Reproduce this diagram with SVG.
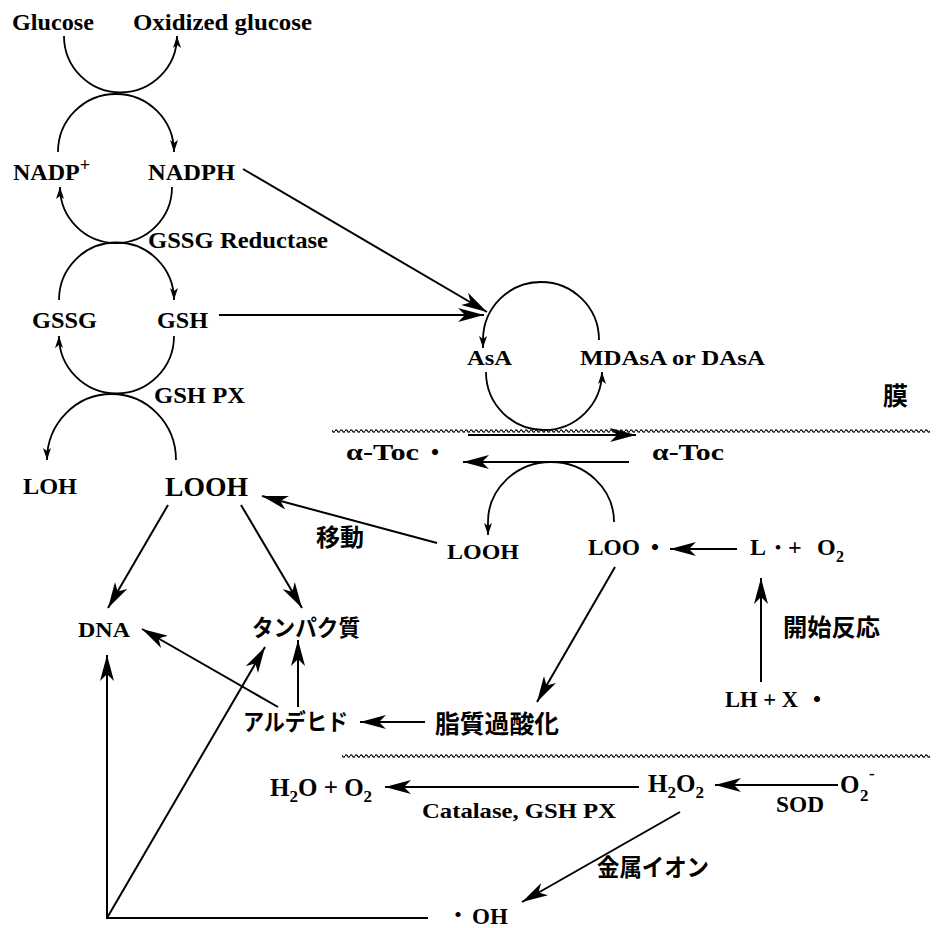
<svg xmlns="http://www.w3.org/2000/svg" width="936" height="928" viewBox="0 0 936 928">
<style>
.t{font-family:"Liberation Serif","Times New Roman",serif;font-weight:bold;fill:#000}
.j{font-family:"Noto Sans CJK JP","Noto Sans CJK SC",sans-serif;font-weight:bold;fill:#000}
.ln{fill:none;stroke:#000;stroke-width:2;marker-end:url(#ah)}
.pl{fill:none;stroke:#000;stroke-width:2}
.arc{fill:none;stroke:#000;stroke-width:1.8;marker-end:url(#as)}
</style>
<defs>
<marker id="ah" viewBox="0 0 26 14" refX="26" refY="7" markerWidth="26" markerHeight="14" orient="auto" markerUnits="userSpaceOnUse"><path d="M0,0 L26,7 L0,14 L7,7 Z" fill="#000"/></marker>
<marker id="as" viewBox="0 0 12 8" refX="12" refY="4" markerWidth="12" markerHeight="8" orient="auto" markerUnits="userSpaceOnUse"><path d="M0,0 L12,4 L0,8 L3,4 Z" fill="#000"/></marker>
<pattern id="wave" x="0" y="428" width="5" height="6" patternUnits="userSpaceOnUse"><path d="M0,3 Q1.25,0.6 2.5,3 T5,3" fill="none" stroke="#000" stroke-width="1.3"/></pattern>
<pattern id="wave2" x="0" y="753" width="5" height="6" patternUnits="userSpaceOnUse"><path d="M0,3 Q1.25,0.6 2.5,3 T5,3" fill="none" stroke="#000" stroke-width="1.3"/></pattern>
</defs>
<rect width="936" height="928" fill="#fff"/>

<g id="membrane">
<rect x="332" y="428" width="598" height="6" fill="url(#wave)"/>
<rect x="342" y="753" width="588" height="6" fill="url(#wave2)"/>
<text class="j" x="883" y="405" font-size="25">膜</text>
</g>

<g id="connectors">
<path class="arc" d="M64,36 A56.5,56.5 0 0 0 177,36"/>
<path class="arc" d="M58,152 A58,58 0 0 1 174,152"/>
<path class="arc" d="M172,187 A56,56 0 0 1 60,187"/>
<path class="arc" d="M59,300 A57.5,57.5 0 0 1 174,300"/>
<path class="arc" d="M174,336 A57.5,57.5 0 0 1 59,336"/>
<path class="arc" d="M176,460 A64.5,66 0 0 0 47,460"/>
<path class="arc" d="M599,340 A58,58 0 0 0 483,340 L483,348"/>
<path class="arc" d="M486,372 A58,58 0 0 0 602,372"/>
<path class="arc" d="M614,522 A63,60 0 0 0 488,522 L488,535"/>
<path class="ln" d="M243,169 L487,312"/>
<path class="ln" d="M219,315 L484,315"/>
<path class="ln" d="M468,435 L636,435"/>
<path class="ln" d="M629,462 L463,462"/>
<path class="ln" d="M437,543 L262,496"/>
<path class="ln" d="M168,505 L108,608"/>
<path class="ln" d="M241,505 L302,608"/>
<path class="ln" d="M278,707 L142,629"/>
<path class="ln" d="M298,707 L298,640"/>
<path class="ln" d="M107,918 L265,647"/>
<path class="ln" d="M107,918 L107,655"/>
<path class="pl" d="M106,918 L428,918"/>
<path class="ln" d="M425,722 L360,722"/>
<path class="ln" d="M615,567 L537,702"/>
<path class="ln" d="M737,549 L670,549"/>
<path class="ln" d="M761,682 L761,578"/>
<path class="ln" d="M639,787 L385,787"/>
<path class="ln" d="M838,785 L715,785"/>
<path class="ln" d="M680,812 L522,902"/>
</g>

<g id="glucose"><text class="t" x="12" y="30" font-size="24" textLength="82" lengthAdjust="spacingAndGlyphs">Glucose</text></g>
<g id="oxidized-glucose"><text class="t" x="133" y="30" font-size="24" textLength="179" lengthAdjust="spacingAndGlyphs">Oxidized glucose</text></g>
<g id="nadp"><text class="t" x="13" y="180" font-size="24">NADP<tspan font-size="18" dy="-9">+</tspan></text></g>
<g id="nadph"><text class="t" x="148" y="180" font-size="24" textLength="87" lengthAdjust="spacingAndGlyphs">NADPH</text></g>
<g id="gssg-reductase"><text class="t" x="148" y="248" font-size="24" textLength="180" lengthAdjust="spacingAndGlyphs">GSSG Reductase</text></g>
<g id="gssg"><text class="t" x="32" y="328" font-size="24" textLength="65" lengthAdjust="spacingAndGlyphs">GSSG</text></g>
<g id="gsh"><text class="t" x="157" y="328" font-size="24" textLength="51" lengthAdjust="spacingAndGlyphs">GSH</text></g>
<g id="gsh-px"><text class="t" x="154" y="403" font-size="24" textLength="91" lengthAdjust="spacingAndGlyphs">GSH PX</text></g>
<g id="loh"><text class="t" x="23" y="494" font-size="24" textLength="54" lengthAdjust="spacingAndGlyphs">LOH</text></g>
<g id="looh-left"><text class="t" x="165" y="496" font-size="28" textLength="83" lengthAdjust="spacingAndGlyphs">LOOH</text></g>
<g id="asa"><text class="t" x="467" y="365" font-size="20" textLength="45" lengthAdjust="spacingAndGlyphs">AsA</text></g>
<g id="mdasa"><text class="t" x="580" y="365" font-size="20" textLength="185" lengthAdjust="spacingAndGlyphs">MDAsA or DAsA</text></g>
<g id="atoc-radical"><text class="t" x="346" y="460" font-size="24" textLength="73" lengthAdjust="spacingAndGlyphs">α-Toc</text><text class="j" x="423" y="461" font-size="24">・</text></g>
<g id="atoc"><text class="t" x="652" y="460" font-size="24" textLength="72" lengthAdjust="spacingAndGlyphs">α-Toc</text></g>
<g id="idou"><text class="j" x="316" y="546" font-size="24">移動</text></g>
<g id="looh-mid"><text class="t" x="447" y="559" font-size="21" textLength="72" lengthAdjust="spacingAndGlyphs">LOOH</text></g>
<g id="loo-radical"><text class="t" x="588" y="555" font-size="24" textLength="52" lengthAdjust="spacingAndGlyphs">LOO</text><text class="j" x="643" y="556" font-size="24">・</text></g>
<g id="l-o2"><text class="t" y="555" font-size="24"><tspan x="750">L</tspan><tspan class="j" x="769" y="554" font-size="18">・</tspan><tspan x="788" y="555">+</tspan><tspan x="817">O</tspan><tspan x="836" y="562" font-size="16">2</tspan></text></g>
<g id="kaishi"><text class="j" x="783" y="636" font-size="24" textLength="97" lengthAdjust="spacingAndGlyphs">開始反応</text></g>
<g id="lh-x"><text class="t" x="725" y="707" font-size="24" textLength="73" lengthAdjust="spacingAndGlyphs">LH + X</text><text class="j" x="805" y="708" font-size="24">・</text></g>
<g id="dna"><text class="t" x="78" y="637" font-size="22" textLength="52" lengthAdjust="spacingAndGlyphs">DNA</text></g>
<g id="protein"><text class="j" x="252" y="636" font-size="23" textLength="108" lengthAdjust="spacingAndGlyphs">タンパク質</text></g>
<g id="aldehyde"><text class="j" x="243" y="730" font-size="23" textLength="105" lengthAdjust="spacingAndGlyphs">アルデヒド</text></g>
<g id="lipid-perox"><text class="j" x="435" y="733" font-size="25" textLength="124" lengthAdjust="spacingAndGlyphs">脂質過酸化</text></g>
<g id="h2o-o2"><text class="t" x="270" y="796" font-size="25">H<tspan font-size="17" dy="6">2</tspan><tspan dy="-6">O + O</tspan><tspan font-size="17" dy="6">2</tspan></text></g>
<g id="catalase"><text class="t" x="422" y="818" font-size="22" textLength="194" lengthAdjust="spacingAndGlyphs">Catalase, GSH PX</text></g>
<g id="h2o2"><text class="t" x="648" y="792" font-size="25">H<tspan font-size="17" dy="6">2</tspan><tspan dy="-6">O</tspan><tspan font-size="17" dy="6">2</tspan></text></g>
<g id="o2minus"><text class="t" y="793" font-size="25"><tspan x="840">O</tspan><tspan x="860" y="801" font-size="17">2</tspan><tspan x="869" y="779" font-size="17">-</tspan></text></g>
<g id="sod"><text class="t" x="776" y="812" font-size="23" textLength="48" lengthAdjust="spacingAndGlyphs">SOD</text></g>
<g id="metal"><text class="j" x="597" y="876" font-size="24" textLength="112" lengthAdjust="spacingAndGlyphs">金属イオン</text></g>
<g id="oh"><text class="j" x="448" y="922" font-size="20">・</text><text class="t" x="472" y="924" font-size="23">OH</text></g>
</svg>
